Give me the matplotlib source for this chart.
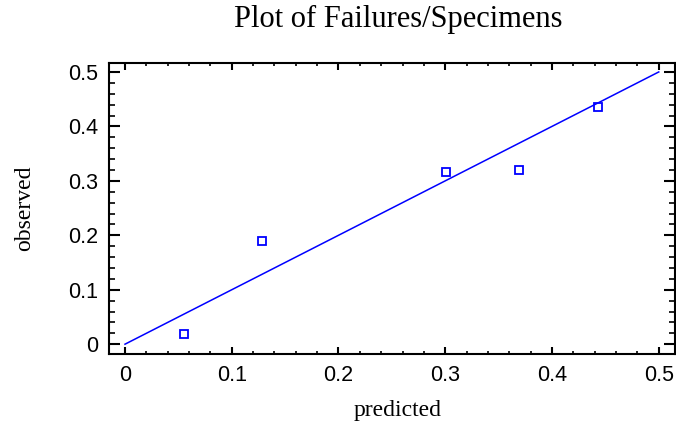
import numpy as np
import matplotlib.pyplot as plt
from matplotlib.ticker import MultipleLocator

# Observed vs predicted fraction of failures
predicted = [0.055, 0.128, 0.301, 0.369, 0.4435]
observed = [0.018, 0.190, 0.316, 0.319, 0.436]
ref_line = [0.0, 0.5]
ticks = [0, 0.1, 0.2, 0.3, 0.4, 0.5]
tick_labels = ['0', '0.1', '0.2', '0.3', '0.4', '0.5']

fig = plt.figure(figsize=(6.76, 4.28), dpi=100)
ax = fig.add_axes([0.1612, 0.1729, 0.837, 0.680])

# diagonal reference line and points
ax.plot(ref_line, ref_line, color='#0000ff', linewidth=1.1)
ax.plot(predicted, observed, 's', color='#0000ff', markerfacecolor='none',
        markersize=5.5, markeredgewidth=1.3)

ax.set_xlim(-0.015, 0.515)
ax.set_ylim(-0.018, 0.5165)
ax.set_xticks(ticks)
ax.set_xticklabels(tick_labels)
ax.set_yticks(ticks)
ax.set_yticklabels(tick_labels)
ax.xaxis.set_minor_locator(MultipleLocator(0.02))
ax.yaxis.set_minor_locator(MultipleLocator(0.02))

for sp in ax.spines.values():
    sp.set_linewidth(1.5)

ax.tick_params(axis='x', which='major', direction='in', length=5, width=1.5,
               top=True, pad=8)
ax.tick_params(axis='x', which='minor', direction='in', length=2.5, width=1.2,
               top=True)
ax.tick_params(axis='y', which='major', direction='in', length=8, width=1.5,
               right=True, pad=8)
ax.tick_params(axis='y', which='minor', direction='in', length=4, width=1.2,
               right=True)
for lab in ax.get_xticklabels() + ax.get_yticklabels():
    lab.set_fontfamily('Liberation Sans')
    lab.set_fontsize(15.5)

fig.text(0.5886, 0.955, "Plot of Failures/Specimens", family='Liberation Serif',
         fontsize=22, ha='center', va='center')
fig.text(0.5886, 0.042, "predicted", family='Liberation Serif',
         fontsize=17, ha='center', va='center')
fig.text(0.037, 0.5135, "observed", family='Liberation Serif',
         fontsize=17, ha='center', va='center', rotation=90)

fig.savefig('out.png', dpi=100)
